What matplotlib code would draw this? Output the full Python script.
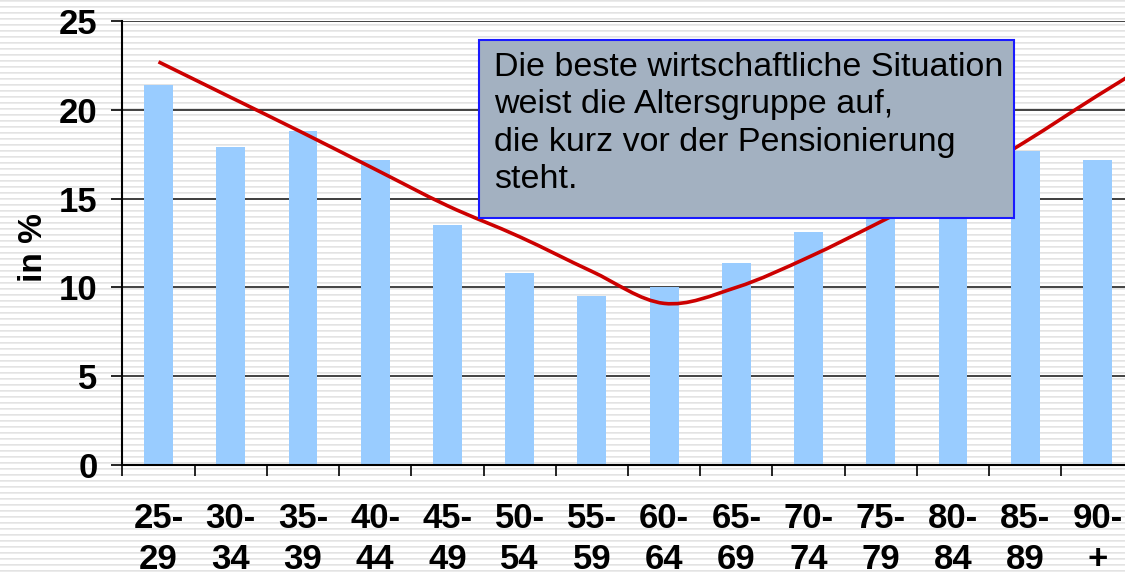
import matplotlib
matplotlib.use("Agg")
import matplotlib.pyplot as plt
import numpy as np
from matplotlib.path import Path
from matplotlib.patches import PathPatch, Rectangle

plt.rcParams['font.family'] = ['Liberation Sans', 'DejaVu Sans']

# Altersgruppen und Werte (in %)
gruppen = ["25-\n29", "30-\n34", "35-\n39", "40-\n44", "45-\n49", "50-\n54", "55-\n59",
           "60-\n64", "65-\n69", "70-\n74", "75-\n79", "80-\n84", "85-\n89", "90-\n+"]
werte = [21.4, 17.9, 18.8, 17.2, 13.5, 10.8, 9.5, 10.0, 11.4, 13.1, 15.0, 16.0, 17.7, 17.2]
# Trendlinie (eine Stuetzstelle mehr als Gruppen, rechts abgeschnitten)
trend = [22.7, 20.7, 18.7, 16.65, 14.6, 12.85, 10.9, 9.1, 10.0, 11.7, 13.7, 15.8, 18.2, 20.8, 23.3]
y_ticks = [0, 5, 10, 15, 20, 25]
hinweis = ("Die beste wirtschaftliche Situation\n"
           "weist die Altersgruppe auf,\n"
           "die kurz vor der Pensionierung\n"
           "steht.")

W, H = 1125, 574
fig = plt.figure(figsize=(W / 100, H / 100), dpi=100)

# gestreifter Hintergrund
bg = fig.add_axes([0, 0, 1, 1], zorder=-10)
streifen = np.ones((H, 1))
zeilen = np.arange(H)
streifen[zeilen % 6 == 0] = 0.89
streifen[zeilen % 6 == 1] = 0.92
bg.imshow(streifen, cmap="gray", vmin=0, vmax=1, aspect="auto",
          interpolation="nearest", extent=[0, 1, 0, 1])
bg.axis("off")

ax = fig.add_axes([122.4 / W, (H - 465) / H, 1011.2 / W, 444 / H])
ax.patch.set_alpha(0)

x = np.arange(len(gruppen))
ax.bar(x, werte, width=0.4, color="#99ccff", zorder=2)

# geglaettete Linie (Bezier wie in Excel)
pts = np.column_stack([np.arange(len(trend)), trend])
verts = [pts[0]]
codes = [Path.MOVETO]
for i in range(len(pts) - 1):
    p_prev = pts[max(i - 1, 0)]
    p0, p1 = pts[i], pts[i + 1]
    p_next = pts[min(i + 2, len(pts) - 1)]
    c1 = p0 + (p1 - p_prev) / 6
    c2 = p1 - (p_next - p0) / 6
    verts += [c1, c2, p1]
    codes += [Path.CURVE4] * 3
ax.add_patch(PathPatch(Path(verts, codes), facecolor="none", edgecolor="#cc0000",
                       lw=2.6, zorder=3, capstyle="butt"))

ax.set_xlim(-0.5, len(gruppen) - 0.5)
ax.set_ylim(0, 25)
ax.set_yticks(y_ticks)
ax.yaxis.grid(True, color="#222222", lw=1.2, zorder=1)
ax.set_axisbelow(True)

ax.set_xticks(np.arange(len(gruppen) + 1) - 0.5)
ax.set_xticklabels([])
ax.set_xticks(x, minor=True)
ax.set_xticklabels(gruppen, minor=True, fontsize=25, fontweight="bold", linespacing=1.28)
ax.tick_params(axis="x", which="major", direction="out", length=8, width=1.2)
ax.tick_params(axis="x", which="minor", length=0, pad=27)
ax.tick_params(axis="y", direction="out", length=8, width=1.2, labelsize=25, pad=10)
for lbl in ax.get_yticklabels():
    lbl.set_fontweight("bold")

for s in ["top", "right"]:
    ax.spines[s].set_visible(False)
for s in ["left", "bottom"]:
    ax.spines[s].set_linewidth(1.5)

ax.set_ylabel("in %", fontsize=24, fontweight="bold")
ax.yaxis.set_label_coords(-0.073, 0.49)

# Hinweisbox
box = Rectangle((479 / W, 1 - 218 / H), (1014 - 479) / W, (218 - 40) / H,
                transform=fig.transFigure, facecolor="#a3b1c1", edgecolor="#1a1aff",
                lw=1.5, zorder=5)
fig.add_artist(box)
fig.text(494 / W, 1 - 52 / H, hinweis, fontsize=24.5, va="top", ha="left",
         linespacing=1.27, zorder=6)

fig.savefig("out.png", dpi=100)
